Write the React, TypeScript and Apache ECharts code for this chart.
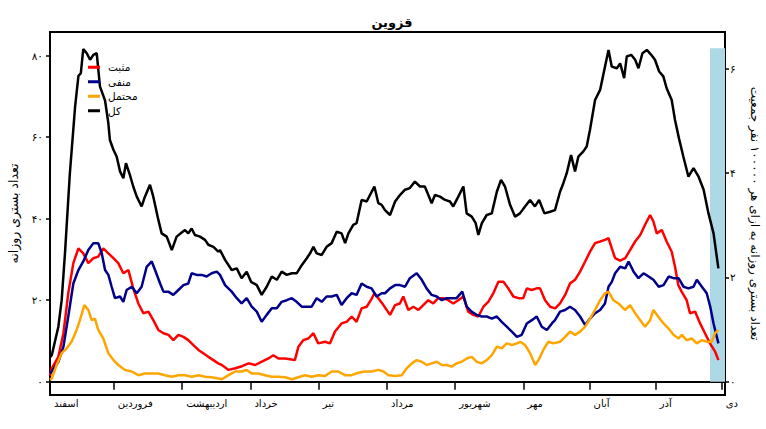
import React, { useEffect, useRef } from "react";
import * as echarts from "echarts";

const title = "قزوین";
const seriesNames = ["مثبت", "منفی", "محتمل", "کل"];
const seriesColors = ["#ff0000", "#00008b", "#ffa500", "#000000"];
const monthNames = ["اسفند", "فروردین", "اردیبهشت", "خرداد", "تیر", "مرداد", "شهریور", "مهر", "آبان", "آذر", "دی"];
const monthStarts = [0, 29, 60, 91, 122, 153, 184, 215, 245, 275, 305];
const leftTicks = [0, 20, 40, 60, 80];
const rightTicks = [0, 2, 4, 6];
const leftName = "تعداد بستری روزانه";
const rightName = "تعداد بستری روزانه به ازای هر ۱۰۰۰۰۰ نفر جمعیت";
const perCapitaRatio = 12.79;
const shadedRange = [299.7, 81.8];

const positive: [number, number][] = [
  [0, 1.5], [0.8, 3.3], [3.8, 6.1], [6.1, 11.9], [8.3, 21.7], [10.6, 29.1], [12.9, 32.7], [15.1, 31.5], [17.4, 29.1], [19.7, 30.3],
  [21.9, 30.7], [24.2, 32.7], [26.5, 31.5], [28.8, 30.3], [31, 29.1], [33.3, 26.6], [35.6, 27.4], [37.8, 22.9], [40.1, 19.2], [42.4, 16.8],
  [44.7, 17.2], [46.9, 15.1], [49.2, 12.7], [51.5, 11.9], [53.8, 11.5], [56, 10.2], [58.3, 11.5], [60.6, 11], [62.8, 10.2], [65.1, 9],
  [67.4, 7.8], [69.6, 7], [71.9, 6.1], [74.2, 5.3], [76.4, 4.5], [78, 4.1], [81.1, 2.9], [84.1, 3.3], [87.2, 3.8], [90.2, 4.5],
  [93.2, 4.1], [96.2, 4.9], [99.2, 5.7], [101.4, 6.5], [103.7, 5.7], [106.7, 5.7], [109, 5.5], [111.2, 5.3], [112.8, 8.6], [115, 10.2],
  [117.3, 10.6], [119.6, 11.9], [121.8, 9.4], [124.9, 9.8], [127.1, 9.4], [129.4, 12.3], [132.4, 14.3], [134.7, 14.7], [137, 16], [139.2, 14.7],
  [141.5, 18], [143.8, 18.4], [145.7, 20], [147.3, 21.7], [149.1, 20.5], [151.4, 18.8], [154.4, 16.4], [156.7, 18.8], [158.9, 19.2], [160.4, 20.9],
  [162.7, 17.6], [165, 18.4], [167.3, 17.6], [169.5, 18.8], [171.8, 20], [174, 19.2], [176.3, 20.5], [178.6, 20.5], [180.8, 20], [183.1, 19.2],
  [185.4, 20], [187.7, 20.9], [189.9, 17.2], [192.2, 16.4], [194.5, 16], [196.8, 18.4], [199, 19.6], [201.3, 21.7], [203.6, 24.5], [205.9, 24.5],
  [208.1, 22.9], [210.4, 20.9], [212.7, 20.5], [214.9, 20.5], [216.5, 22.9], [218.7, 22.5], [221, 22.9], [222.5, 22.9], [224.8, 20], [227.1, 18.4],
  [229.4, 18], [231.6, 19.2], [233.9, 21.3], [236.1, 24.1], [238.4, 25], [240.7, 27], [243, 29.5], [245.2, 31.9], [247.5, 34], [249.8, 34.4],
  [252, 34.8], [253.6, 35.2], [255.1, 32.7], [256.6, 30.3], [258.9, 29.7], [261.2, 30.3], [263.4, 32.3], [265.7, 34.4], [268, 36], [270.2, 38.5],
  [272.5, 40.9], [274, 39.3], [275.5, 36.4], [277.8, 37.2], [280, 34.4], [282.3, 31.9], [283.8, 28.2], [285.3, 23.7], [286.8, 22.1], [289.1, 20],
  [290.6, 16.8], [292.9, 17.2], [295.2, 14.3], [297.4, 11.9], [299.7, 9.4], [302, 7.4], [303.5, 5.3],
];

const negative: [number, number][] = [
  [0, 2], [0.8, 2.5], [3.8, 4.9], [6.1, 8.6], [8.3, 16], [10.6, 24.1], [12.9, 27.4], [15.1, 29.5], [17.4, 32.3], [19.7, 34],
  [21.9, 34], [23.5, 31.5], [25, 27.4], [26.5, 26.2], [28, 23.3], [29.5, 20.5], [31.8, 20.9], [33.3, 19.6], [34.8, 22.5], [37.1, 23.3],
  [39.4, 21.7], [41.6, 23.3], [43.9, 28.2], [46.2, 29.5], [47.7, 27.4], [50, 24.1], [51.5, 22.1], [53.7, 22.1], [56, 21.3], [58.3, 22.5],
  [60.6, 23.7], [62.8, 24.1], [64.3, 26.6], [66.6, 26.2], [68.9, 26.2], [71.1, 25.8], [73.4, 26.6], [75.7, 27], [77.2, 26.2], [79.5, 23.7],
  [82.5, 22.1], [84.8, 20.5], [87, 19.2], [89.3, 20.5], [91.6, 18.4], [93.9, 17.2], [96.1, 14.7], [98.4, 16.4], [100.7, 18], [103, 18],
  [105.2, 19.6], [107.5, 20], [109.8, 20.5], [112, 19.6], [114.3, 18.4], [116.6, 18.4], [118.8, 18.4], [121.1, 20.5], [123.4, 19.6], [125.6, 20.9],
  [127.9, 20.9], [130.2, 21.3], [132.4, 18.8], [134.7, 20.5], [137, 21.7], [139.2, 21.3], [141.5, 24.1], [143.8, 23.3], [146, 22.9], [148.3, 20.9],
  [150.6, 21.7], [152.1, 21.7], [154.4, 22.9], [156.7, 23.7], [158.9, 23.7], [161.2, 23.3], [163.4, 25.4], [166.5, 26.6], [168.8, 25], [171, 22.9],
  [173.3, 21.3], [175.6, 20.9], [177.9, 20], [180.1, 20.5], [182.4, 20.5], [184.6, 20.5], [187.2, 22.1], [189.2, 18.4], [191.4, 17.2], [193.7, 16.4],
  [196, 16], [198.3, 16], [200.6, 15.5], [202.9, 16], [205.1, 14.7], [207.4, 13.5], [209.7, 12.3], [212, 11], [214.2, 11.5], [216.5, 14.3],
  [218.8, 15.1], [221, 16], [223.3, 13.5], [225.6, 12.7], [227.9, 14.3], [229.3, 15.1], [231.6, 17.2], [233.9, 17.6], [236.1, 18.4], [238.4, 17.6],
  [240.7, 16], [243, 13.9], [245.2, 15.5], [247.5, 16.8], [249.8, 17.6], [252, 19.2], [253.6, 23.3], [255.1, 24.5], [256.6, 26.6], [258.9, 28.2],
  [261.2, 27.8], [262.7, 29.5], [265, 27], [267.2, 25.4], [269.5, 26.6], [271.8, 25.8], [274, 25], [276.4, 23.3], [278.6, 23.7], [280.9, 25.8],
  [283.1, 25.4], [285.4, 25.4], [287.7, 23.3], [289.9, 22.9], [292.2, 23.3], [293.7, 25], [296, 23.3], [298.2, 21.7], [299.8, 18.4], [301.3, 14.3],
  [303.5, 9.4],
];

const possible: [number, number][] = [
  [0, 0.5], [0.8, 0.8], [3, 4.1], [5.3, 7], [7.6, 8.2], [9.8, 9.8], [12.1, 12.7], [13.6, 15.1], [15.6, 18.8], [17.4, 17.6],
  [18.9, 15.1], [20.4, 15.5], [21.9, 12.7], [24.2, 10.6], [26.5, 7], [28.8, 5.3], [31, 4.1], [34.1, 2.9], [37.1, 2.5], [40.1, 1.6],
  [43.1, 2], [46.2, 2], [49.2, 2], [52.2, 1.6], [55.3, 1.2], [58.3, 1.6], [61.3, 1.6], [64.3, 1.2], [67.4, 1.6], [70.4, 1.2],
  [73.4, 1.1], [76.4, 0.8], [78, 0.6], [81.1, 1.6], [84.1, 2.5], [87.2, 2.5], [89.3, 2.9], [91.6, 2], [94.6, 2], [97.6, 1.6],
  [100.7, 1.2], [103.7, 1.2], [106.7, 1.1], [109.8, 0.6], [112.8, 1.1], [115.8, 1.6], [118.8, 1.2], [121.8, 1.6], [124.9, 1.4], [127.9, 2.5],
  [130.9, 2.5], [133.9, 1.6], [137, 1.6], [140, 2.2], [143, 2.5], [146, 2.5], [149.1, 2.9], [151.4, 2.5], [153.7, 1.6], [156.7, 1.4],
  [159.7, 1.6], [162, 3.3], [164.3, 4.5], [166.5, 5.3], [168.8, 4.9], [171.1, 4.1], [173.3, 4.5], [175.6, 4.9], [177.9, 4.1], [180.1, 4.1],
  [182.4, 3.7], [184.6, 4.5], [186.9, 4.9], [189.2, 5.7], [191.5, 6.1], [193.7, 4.9], [196, 4.5], [198.3, 5.3], [200.6, 6.5], [202.9, 8.6],
  [205.1, 8.2], [207.4, 9.4], [209.7, 9], [212, 9.4], [213.5, 9.8], [215.7, 9], [218, 7], [220.3, 4.1], [221.8, 5.3], [224, 7.8],
  [226.3, 9.8], [228.6, 9.4], [231.6, 9.8], [233.9, 11], [236.1, 12.3], [238.4, 11.5], [240.7, 12.3], [243, 13.5], [245.2, 15.5], [247.5, 17.6],
  [249.8, 20], [252, 21.7], [253.6, 22.1], [255.8, 20], [258.1, 19.2], [261.1, 17.6], [263.4, 18.8], [265.7, 16.8], [268, 15.1], [270.2, 13.5],
  [272.5, 15.1], [274, 17.6], [276.3, 15.9], [278.6, 14.3], [280.8, 13.1], [283.1, 11.5], [285.4, 10.6], [286.9, 11.5], [289.1, 10.2], [291.4, 10.6],
  [293.7, 9.4], [296, 10.2], [298.2, 9.8], [300.5, 9.8], [302, 11.9], [303.5, 12.7],
];

const total: [number, number][] = [
  [0, 6], [0.8, 6.5], [3.8, 13.5], [5.3, 20], [6.8, 31.5], [9, 51], [11.4, 67.5], [12.9, 75], [14, 75.7], [15.1, 81.6],
  [16.7, 80.6], [18.2, 79], [19.7, 80.2], [21.2, 80.6], [22.7, 72.4], [25, 69], [26.5, 63.4], [27.2, 59.3], [28.8, 56.9], [30.3, 55.2],
  [31.8, 51.6], [33.3, 49.9], [34.5, 53.6], [36.3, 50.7], [37.8, 47.9], [39.4, 45.4], [41.6, 43], [43.1, 45.4], [45.4, 48.3], [46.9, 45.4],
  [49.2, 39.7], [50.7, 36.4], [53, 35.6], [55.3, 32.3], [57.5, 35.6], [59.8, 36.6], [61.3, 37.2], [62.8, 36.4], [64.3, 37.6], [65.8, 36],
  [68.1, 35.6], [70.4, 34.8], [71.9, 33.6], [74.2, 33.1], [76.4, 31.9], [77.2, 32.3], [79.5, 29.9], [82.5, 27.4], [84.8, 27.8], [87, 25.4],
  [89.3, 27], [91.3, 24.5], [93.9, 23.7], [96.1, 21.3], [98.4, 23.3], [100.7, 25.8], [103, 25], [105.2, 27], [107.5, 26.2], [109.8, 26.6],
  [112, 26.6], [114.3, 28.6], [116.6, 30.3], [118.1, 31.5], [119.6, 33.1], [121.1, 31.5], [123.4, 31.1], [125.6, 33.1], [127.9, 34], [130.2, 36.8],
  [132.4, 36.4], [134, 34], [135.5, 36.4], [137.7, 38.5], [139.2, 38.9], [141.5, 44.6], [143.8, 44.2], [145.3, 45.8], [147.3, 47.9], [149.1, 43.8],
  [150.6, 43.4], [152.1, 42.1], [154.4, 40.9], [156.7, 44.2], [158.9, 45.8], [161.2, 47.1], [163.4, 47.5], [165.7, 49.1], [168, 47.9], [170.2, 47.9],
  [171.8, 45.8], [173.3, 43.8], [174.8, 45.8], [177.1, 45.4], [179.4, 44.6], [181.6, 44.2], [183.1, 43], [185.4, 45.4], [187.7, 47.9], [189.2, 41.3],
  [191.5, 40.5], [193.3, 38.9], [194.5, 36], [196.1, 38.9], [198.3, 40.9], [200.6, 41.3], [202.9, 46.6], [204.8, 49.5], [206.6, 47.9], [208.9, 43.4],
  [211.2, 40.5], [213.4, 41.3], [215.7, 43], [218, 44.6], [220.2, 43], [222.1, 44.6], [224.5, 41.3], [227.1, 41.7], [229.3, 42.1], [231.6, 46.6],
  [233.1, 48.7], [234.6, 51.1], [236.6, 55.6], [238.4, 51.6], [239.9, 55.2], [242.2, 56.5], [243.7, 57.7], [245.2, 61.8], [247.5, 69.1], [249.8, 71.6],
  [252, 77.3], [253.6, 81.4], [255.1, 77.3], [257.4, 76.9], [258.9, 78.1], [260.7, 74.5], [261.9, 79.8], [263.9, 80.2], [265.7, 79], [267.2, 76.9],
  [269, 80.6], [271, 81.4], [273, 80.2], [274.7, 79], [276.6, 76.1], [278.5, 74.9], [280, 72], [282.3, 69.1], [283.8, 64.2], [285.6, 59.7],
  [287.6, 55.2], [289.9, 50.3], [292.2, 52.4], [294.5, 50.3], [296.8, 47.1], [299, 41.3], [301.3, 36.4], [303.5, 27.8],
];

const seriesData = [positive, negative, possible, total];

const FONT = "DejaVu Sans";
const X_MIN = 0;
const X_MAX = 306.5;
const Y_MIN = -3.26;
const Y_MAX = 85.8;

const toFa = (v: number | string) => String(v).replace(/\d/g, (d) => "۰۱۲۳۴۵۶۷۸۹"[Number(d)]);

export default function App() {
  const ref = useRef<HTMLDivElement>(null);
  useEffect(() => {
    if (!ref.current) return;
    const chart = echarts.init(ref.current, null, { renderer: "svg" });
    const axisLine = { show: true, lineStyle: { color: "#000", width: 2 } };
    const lines = seriesData.map((d, i) => ({
      name: seriesNames[i],
      type: "line",
      data: d,
      showSymbol: false,
      z: 3,
      lineStyle: { color: seriesColors[i], width: 2.5 },
      itemStyle: { color: seriesColors[i] },
    }));
    chart.setOption({
      animation: false,
      textStyle: { fontFamily: FONT },
      title: {
        text: title,
        left: 387,
        textAlign: "center",
        top: 11,
        textStyle: { fontFamily: FONT, fontSize: 13, fontWeight: "bold", color: "#000" },
      },
      legend: {
        data: seriesNames,
        orient: "vertical",
        left: 88,
        top: 61,
        padding: 0,
        icon: "rect",
        itemWidth: 12,
        itemHeight: 3,
        itemGap: 2,
        textStyle: { fontFamily: FONT, fontSize: 10.5, lineHeight: 12.5, color: "#000", padding: [0, 0, 0, 3] },
      },
      grid: {
        left: 50,
        right: 41,
        top: 32,
        bottom: 34,
        show: true,
        borderColor: "#000",
        borderWidth: 2,
        outerBoundsMode: "none",
        containLabel: false,
      },
      xAxis: {
        type: "value",
        min: X_MIN,
        max: X_MAX,
        axisLine,
        splitLine: { show: false },
        axisTick: { show: true, customValues: monthStarts, length: 8, lineStyle: { color: "#000", width: 1.5 } },
        axisLabel: {
          customValues: monthStarts,
          formatter: (v: number) => monthNames[monthStarts.indexOf(Math.round(v))] ?? "",
          align: "left",
          verticalAlign: "top",
          margin: 3,
          padding: [0, 0, 0, 4],
          fontSize: 10,
          color: "#000",
          fontFamily: FONT,
        },
      },
      yAxis: [
        {
          type: "value",
          position: "left",
          min: Y_MIN,
          max: Y_MAX,
          axisLine,
          splitLine: { show: false },
          axisTick: { show: true, customValues: leftTicks, length: 4, lineStyle: { color: "#000", width: 1.5 } },
          axisLabel: {
            customValues: leftTicks,
            formatter: (v: number) => toFa(Math.round(v)),
            margin: 7,
            fontSize: 10.5,
            color: "#000",
            fontFamily: FONT,
          },
          name: leftName,
          nameLocation: "middle",
          nameRotate: 90,
          nameGap: 30,
          nameTextStyle: { fontFamily: FONT, fontSize: 12.5, color: "#000" },
        },
        {
          type: "value",
          position: "right",
          min: Y_MIN / perCapitaRatio,
          max: Y_MAX / perCapitaRatio,
          axisLine,
          splitLine: { show: false },
          axisTick: { show: true, customValues: rightTicks, length: 4, lineStyle: { color: "#000", width: 1.5 } },
          axisLabel: {
            customValues: rightTicks,
            formatter: (v: number) => toFa(Math.round(v)),
            margin: 5,
            fontSize: 10.5,
            color: "#000",
            fontFamily: FONT,
          },
          name: rightName,
          nameLocation: "middle",
          nameRotate: -90,
          nameGap: 24,
          nameTextStyle: { fontFamily: FONT, fontSize: 12, color: "#000" },
        },
      ],
      series: [
        {
          name: "shade",
          type: "line",
          data: [],
          z: 1,
          silent: true,
          markArea: {
            silent: true,
            itemStyle: { color: "#add8e6", opacity: 1 },
            data: [[{ xAxis: shadedRange[0], yAxis: 0 }, { xAxis: X_MAX, yAxis: shadedRange[1] }]],
          },
        },
        ...lines,
      ],
    });
    return () => chart.dispose();
  }, []);
  return <div ref={ref} style={{ position: "absolute", left: 0, top: 0, width: 766, height: 429 }} />;
}
